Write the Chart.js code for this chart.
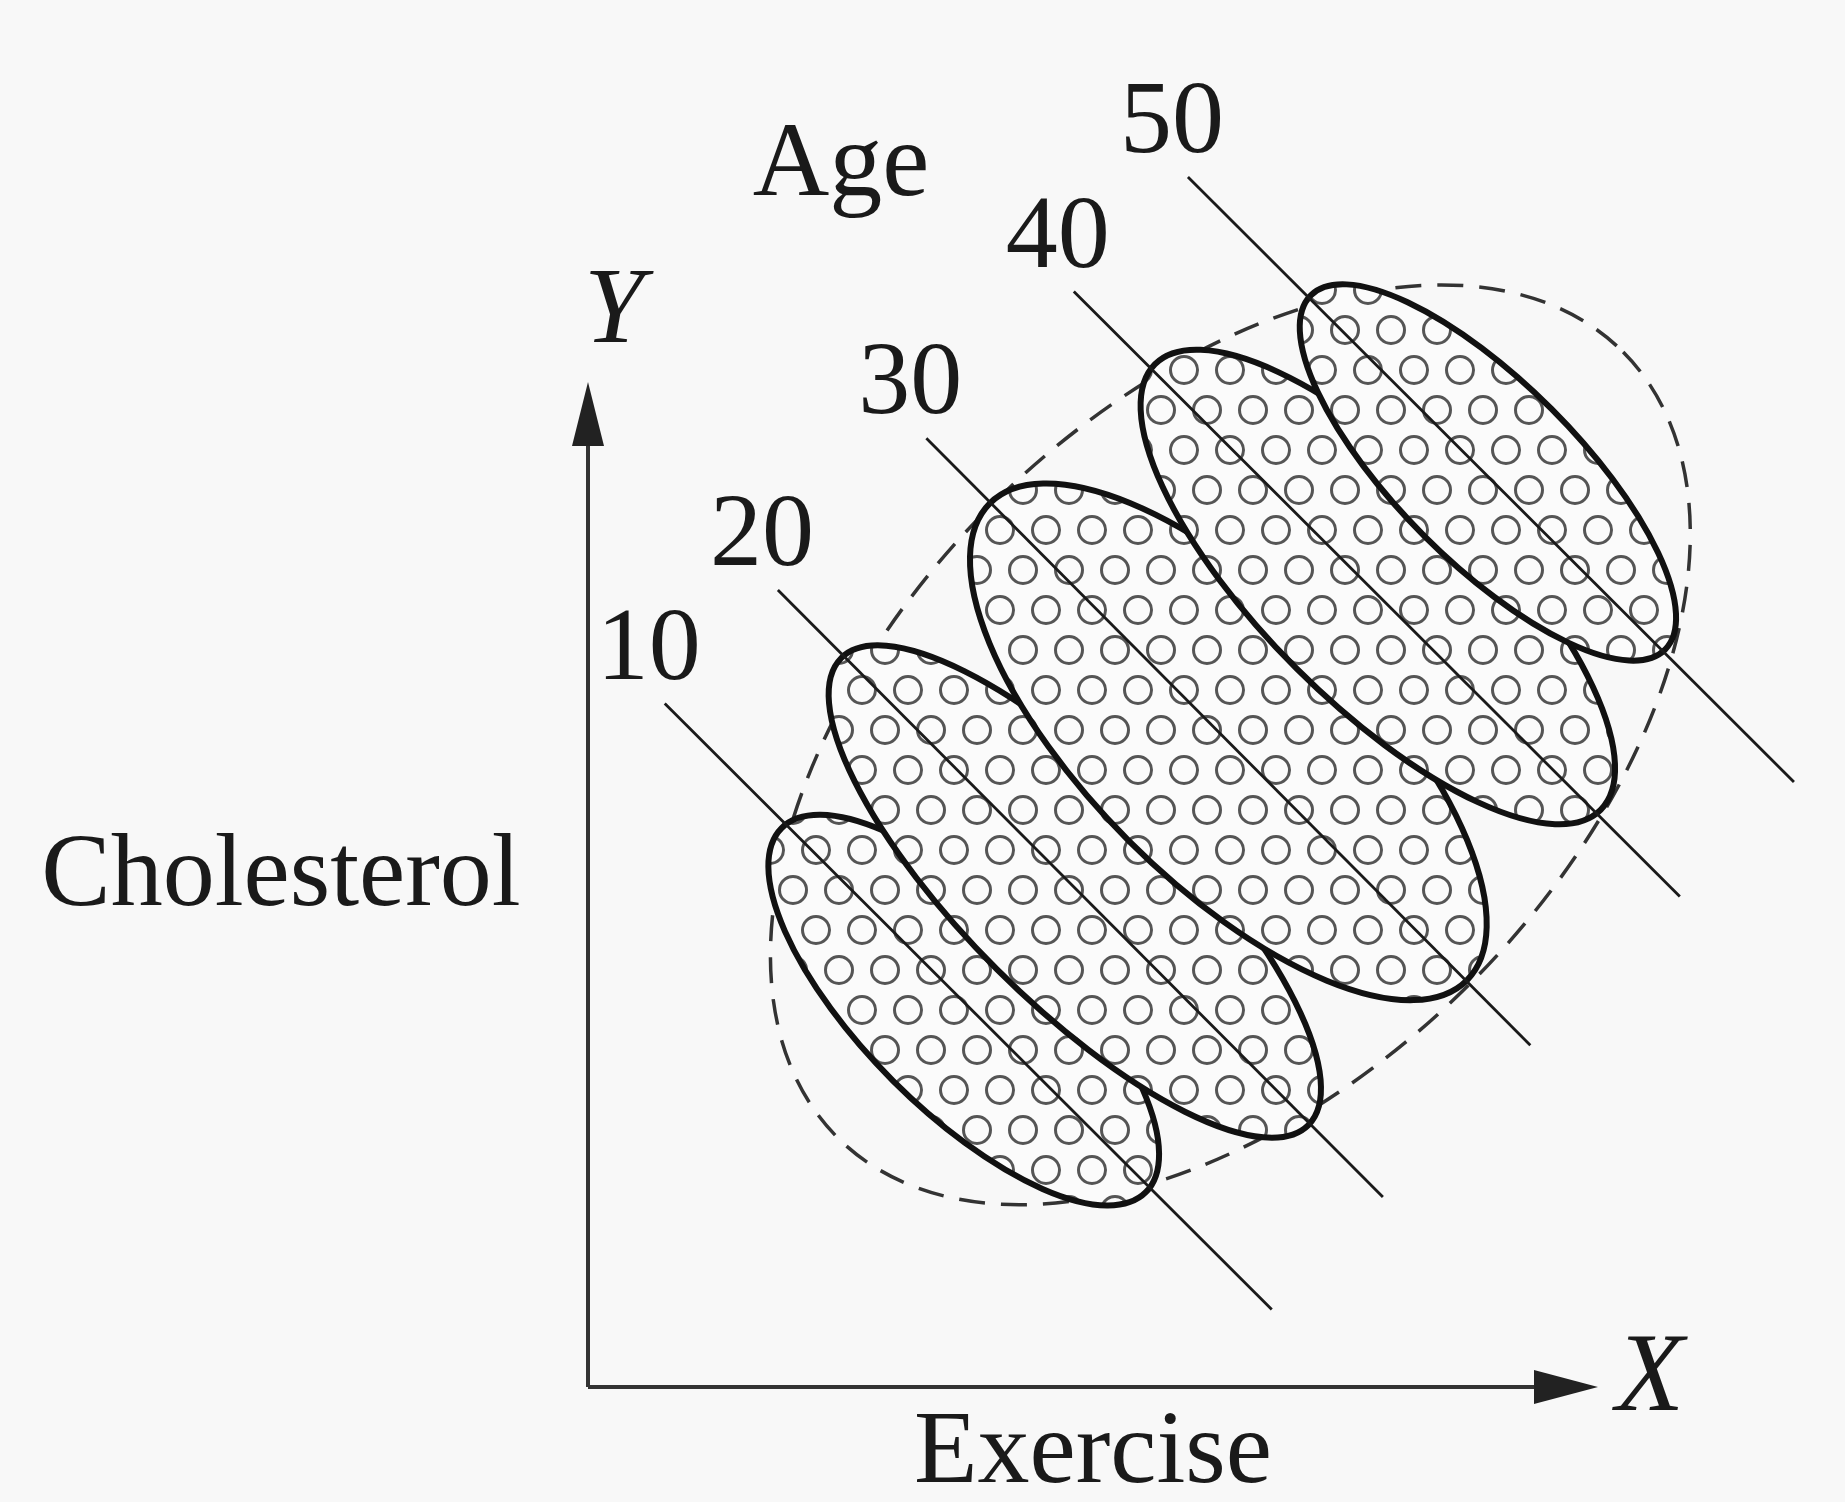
<!DOCTYPE html>
<html lang="en">
<head>
<meta charset="UTF-8">
<title>Cholesterol vs Exercise by Age</title>
<script src="https://cdn.jsdelivr.net/npm/chart.js"></script>
<style>
  html, body { margin: 0; padding: 0; background: #f8f8f8; }
  #wrap { width: 1845px; height: 1502px; }
</style>
</head>
<body>
<div id="wrap"><canvas id="simpson" width="1845" height="1502"></canvas></div>
<script>
// age groups, and the line each group lies on (exercise / cholesterol units, 0-100)
const ages = [10, 20, 30, 40, 50];
const lineStartX = [7.6, 18.8, 33.5, 48.1, 59.4];
const lineStartY = [68.0, 79.3, 94.4, 109.0, 120.4];
const lineEndX = [67.7, 78.7, 93.3, 108.1, 119.4];
const lineEndY = [7.7, 18.9, 34.0, 48.8, 60.2];

// each age cluster as an ellipse: centre, half length along its line, half width
const groupX = [37.2, 48.2, 63.4, 78.2, 89.1];
const groupY = [37.5, 49.3, 64.2, 79.6, 91.0];
const groupLong = [25.5, 32.7, 33.4, 31.2, 24.8];
const groupWide = [9.9, 10.9, 13.9, 11.4, 8.9];
const groupTilt = -45;

// whole population (dashed outline)
const allCentre = [63.6, 63.9];
const allSize = [55.0, 33.5];
const allTilt = 45;

const axisTitles = ['Exercise', 'Cholesterol'];
const axisLetters = ['X', 'Y'];
const groupTitle = 'Age';

const serif = '"Liberation Serif", "Times New Roman", serif';

function dotPattern(ctx) {
    // little open circles used to fill the clusters
    const w = 46, h = 80;
    const c = document.createElement('canvas');
    c.width = w; c.height = h;
    const g = c.getContext('2d');
    g.fillStyle = '#fbfbfb';
    g.fillRect(0, 0, w, h);
    g.strokeStyle = '#555';
    g.lineWidth = 3;
    [[11, 10], [34, 50]].forEach(([cx, cy]) => {
        for (let ox = -w; ox <= w; ox += w) {
            for (let oy = -h; oy <= h; oy += h) {
                g.beginPath();
                g.arc(cx + ox, cy + oy, 13.5, 0, Math.PI * 2);
                g.stroke();
            }
        }
    });
    return ctx.createPattern(c, 'repeat');
}

function ellipsePath(chart, cx, cy, long, wide, tilt) {
    const {x, y} = chart.scales;
    const ctx = chart.ctx;
    const unit = x.getPixelForValue(1) - x.getPixelForValue(0);
    ctx.beginPath();
    ctx.ellipse(x.getPixelForValue(cx), y.getPixelForValue(cy),
        long * unit, wide * unit, -tilt * Math.PI / 180, 0, Math.PI * 2);
}

const clusters = {
    id: 'clusters',
    beforeDraw(chart) {
        const ctx = chart.ctx;
        ctx.save();
        ctx.fillStyle = '#f8f8f8';
        ctx.fillRect(0, 0, chart.width, chart.height);
        ctx.restore();
    },
    beforeDatasetsDraw(chart) {
        const ctx = chart.ctx;
        ctx.save();
        // overall cloud
        ellipsePath(chart, allCentre[0], allCentre[1], allSize[0], allSize[1], allTilt);
        ctx.setLineDash([26, 16]);
        ctx.lineWidth = 3.5;
        ctx.strokeStyle = '#333';
        ctx.stroke();
        ctx.setLineDash([]);

        const pat = dotPattern(ctx);
        ages.forEach((a, i) => {
            ellipsePath(chart, groupX[i], groupY[i], groupLong[i], groupWide[i], groupTilt);
            ctx.fillStyle = pat;
            ctx.fill();
            ctx.lineWidth = 6;
            ctx.strokeStyle = '#111';
            ctx.stroke();
        });
        ctx.restore();
    }
};

const frame = {
    id: 'frame',
    afterDraw(chart) {
        const ctx = chart.ctx;
        const {left, right, top, bottom} = chart.chartArea;
        const {x, y} = chart.scales;
        ctx.save();
        ctx.strokeStyle = '#333';
        ctx.fillStyle = '#222';
        ctx.lineWidth = 4;
        // axes with arrow heads
        ctx.beginPath();
        ctx.moveTo(left, bottom);
        ctx.lineTo(left, top + 50);
        ctx.moveTo(left, bottom);
        ctx.lineTo(right - 50, bottom);
        ctx.stroke();
        ctx.beginPath();
        ctx.moveTo(left, top);
        ctx.lineTo(left - 16, top + 64);
        ctx.lineTo(left + 16, top + 64);
        ctx.closePath();
        ctx.fill();
        ctx.beginPath();
        ctx.moveTo(right, bottom);
        ctx.lineTo(right - 64, bottom - 17);
        ctx.lineTo(right - 64, bottom + 17);
        ctx.closePath();
        ctx.fill();

        ctx.fillStyle = '#1a1a1a';
        ctx.textAlign = 'center';
        ctx.textBaseline = 'alphabetic';
        ctx.font = '104px ' + serif;
        ctx.fillText(axisTitles[0], (left + right) / 2, bottom + 95);
        ctx.fillText(axisTitles[1], left - 307, (top + bottom) / 2 + 20);
        ctx.font = '106px ' + serif;
        ctx.fillText(groupTitle, left + 253, top - 187);
        ctx.font = 'italic 112px ' + serif;
        ctx.fillText(axisLetters[0], right + 52, bottom + 23);
        ctx.font = 'italic 108px ' + serif;
        ctx.fillText(axisLetters[1], left + 26, top - 40);

        // age value above the start of each line
        ctx.font = '104px ' + serif;
        ages.forEach((a, i) => {
            ctx.fillText(String(a), x.getPixelForValue(lineStartX[i]) - 16,
                y.getPixelForValue(lineStartY[i]) - 25);
        });
        ctx.restore();
    }
};

const ageLines = ages.map((a, i) => ({
    label: 'Age ' + a,
    data: [{x: lineStartX[i], y: lineStartY[i]}, {x: lineEndX[i], y: lineEndY[i]}],
    showLine: true,
    borderColor: '#1a1a1a',
    borderWidth: 2.8,
    pointRadius: 0,
    clip: false
}));

new Chart(document.getElementById('simpson').getContext('2d'), {
    type: 'scatter',
    data: {datasets: ageLines},
    options: {
        responsive: false,
        animation: false,
        layout: {padding: {left: 588, right: 247, top: 382, bottom: 115}},
        scales: {
            x: {type: 'linear', min: 0, max: 100, display: false},
            y: {type: 'linear', min: 0, max: 100, display: false}
        },
        plugins: {
            legend: {display: false},
            tooltip: {enabled: false}
        }
    },
    plugins: [clusters, frame]
});
</script>
</body>
</html>
